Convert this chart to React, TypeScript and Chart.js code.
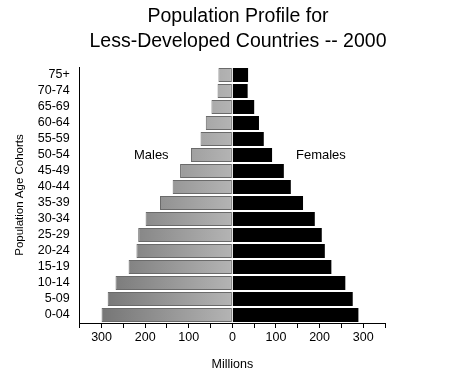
import React, { useEffect, useRef } from "react";
import { Chart, registerables } from "chart.js";

Chart.register(...registerables);

const cohorts = ["75+", "70-74", "65-69", "60-64", "55-59", "50-54", "45-49", "40-44", "35-39", "30-34", "25-29", "20-24", "15-19", "10-14", "5-09", "0-04"];
const males = [32, 34, 48, 61, 73, 95, 120, 137, 166, 199, 216, 220, 238, 268, 286, 300];
const females = [36, 35, 50, 61, 72, 91, 118, 134, 162, 189, 205, 212, 227, 259, 276, 289];
const titleLines = ["Population Profile for", "Less-Developed Countries -- 2000"];
const xTitle = "Millions";
const yTitle = "Population Age Cohorts";
const maleLabel = "Males";
const femaleLabel = "Females";

const FONT = "'Liberation Sans', Arial, Helvetica, sans-serif";

const sideLabels = {
  id: "sideLabels",
  afterDatasetsDraw(chart: any) {
    const { ctx, scales } = chart;
    const y = scales.y.getPixelForValue(5);
    ctx.save();
    ctx.fillStyle = "#000";
    ctx.font = `13px ${FONT}`;
    ctx.textAlign = "center";
    ctx.textBaseline = "middle";
    ctx.fillText(maleLabel, scales.x.getPixelForValue(-186), y);
    ctx.fillText(femaleLabel, scales.x.getPixelForValue(203), y);
    ctx.restore();
  },
};

const titleDraw = {
  id: "titleDraw",
  afterDraw(chart: any) {
    const { ctx } = chart;
    ctx.save();
    ctx.fillStyle = "#000";
    ctx.font = `19.5px ${FONT}`;
    ctx.textAlign = "center";
    ctx.textBaseline = "middle";
    ctx.fillText(titleLines[0], 238, 17);
    ctx.fillText(titleLines[1], 238, 42);
    ctx.restore();
  },
};

export default function App() {
  const ref = useRef<HTMLCanvasElement | null>(null);
  useEffect(() => {
    if (!ref.current) return;
    const chart = new Chart(ref.current, {
      type: "bar",
      data: {
        labels: cohorts,
        datasets: [
          {
            label: maleLabel,
            data: males.map((v) => -v),
            backgroundColor: (c: any) => {
              const ch = c.chart;
              const area = ch.chartArea;
              if (!area) return "#999";
              const x0 = ch.scales.x.getPixelForValue(-300);
              const x1 = ch.scales.x.getPixelForValue(0);
              const g = ch.ctx.createLinearGradient(x0, 0, x1, 0);
              g.addColorStop(0, "#767676");
              g.addColorStop(1, "#b4b4b4");
              return g;
            },
            borderColor: "#6a6a6a",
            borderWidth: 1,
            borderSkipped: false,
            categoryPercentage: 1,
            barPercentage: 0.88,
          },
          {
            label: femaleLabel,
            data: females,
            backgroundColor: "#000000",
            borderWidth: 0,
            categoryPercentage: 1,
            barPercentage: 0.88,
          },
        ],
      },
      options: {
        indexAxis: "y",
        responsive: false,
        animation: false,
        layout: { padding: { left: 13, right: 71, top: 67, bottom: 4 } },
        plugins: {
          legend: { display: false },
          tooltip: { enabled: false },
          title: { display: false },
        },
        scales: {
          x: {
            stacked: true,
            min: -350,
            max: 350,
            ticks: {
              stepSize: 50,
              color: "#000",
              font: { family: FONT, size: 12.5 },
              maxRotation: 0,
              autoSkip: false,
              padding: 2,
              callback: (v: any) => (Number(v) % 100 === 0 && Math.abs(Number(v)) <= 300 ? String(Math.abs(Number(v))) : ""),
            },
            grid: { display: true, drawOnChartArea: false, drawTicks: true, tickLength: 5, color: "#000" },
            border: { display: true, color: "#000", width: 1 },
            title: { display: true, text: xTitle, color: "#000", font: { family: FONT, size: 12.5 }, padding: { top: 10, bottom: 0 } },
          },
          y: {
            stacked: true,
            ticks: { color: "#000", font: { family: FONT, size: 12.5 }, padding: 10, autoSkip: false },
            grid: { display: false, drawTicks: false },
            border: { display: true, color: "#000", width: 1 },
            title: { display: true, text: yTitle, color: "#000", font: { family: FONT, size: 11.5 }, padding: { top: 0, bottom: 1 } },
          },
        },
      },
      plugins: [sideLabels, titleDraw],
    } as any);
    return () => chart.destroy();
  }, []);
  return (
    <div style={{ position: "fixed", left: 0, top: 0, width: 456, height: 376, background: "#fff" }}>
      <canvas ref={ref} width={456} height={376} />
    </div>
  );
}
